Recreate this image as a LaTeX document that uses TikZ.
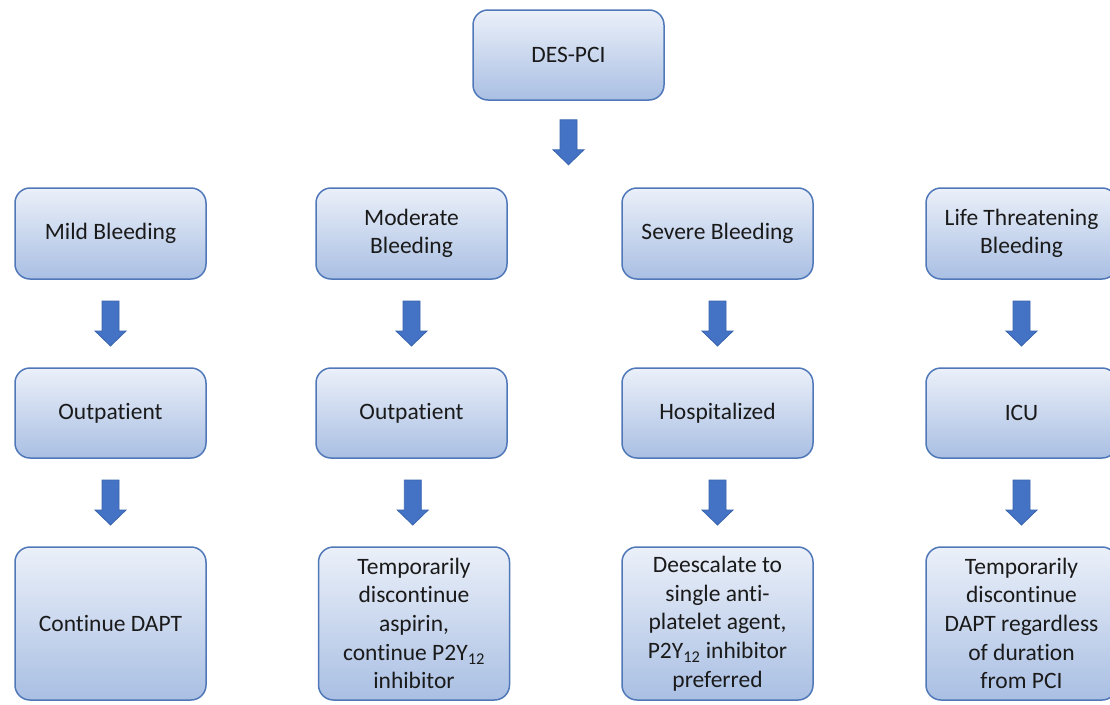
\documentclass[tikz,border=0pt]{standalone}
\usepackage{fontspec}
\setmainfont[Ligatures=NoCommon]{Carlito}
\usetikzlibrary{calc}
\definecolor{boxline}{HTML}{5078B8}
\definecolor{boxtop}{HTML}{EBF0F9}
\definecolor{boxbot}{HTML}{A9BFE3}
\definecolor{arrowfill}{HTML}{4472C4}
\definecolor{arrowline}{HTML}{3A64AE}
\definecolor{txt}{HTML}{1A1A1A}
\newcommand\blockarrowat[1]{%
  \draw[barrow] ($(#1)+(-8.5,22.5)$) -- ($(#1)+(8.5,22.5)$) -- ($(#1)+(8.5,-7.5)$) -- ($(#1)+(15.5,-7.5)$) -- ($(#1)+(0,-22.5)$) -- ($(#1)+(-15.5,-7.5)$) -- ($(#1)+(-8.5,-7.5)$) -- cycle;}
\newcommand\blockarrow[2]{%
  \path ($(#1.south)!0.5!(#2.north)$) coordinate (m);
  \blockarrowat{m}}
\begin{document}
\begin{tikzpicture}[x=1pt,y=1pt,
  box/.style={rectangle, rounded corners=15pt, draw=boxline, line width=1.5pt,
    top color=boxtop, bottom color=boxbot, minimum width=191pt, minimum height=91pt,
    align=center, text=txt, font=\fontsize{23.5}{28.7}\selectfont, inner sep=2pt},
  tall/.style={minimum height=153pt},
  barrow/.style={fill=arrowfill, draw=arrowline, line width=0.8pt, line join=miter}]
\useasboundingbox (0,0) rectangle (1110,-704);
% top
\node[box, minimum height=90pt] (des) at (568.5,-55) {DES-PCI};
% row 1
\node[box] (mild) at (110.5,-233.5) {Mild Bleeding};
\node[box] (mod)  at (411.5,-233.5) {Moderate\\Bleeding};
\node[box] (sev)  at (717.5,-233.5) {Severe Bleeding};
\node[box] (life) at (1021.5,-233.5) {Life Threatening\\Bleeding};
% row 2
\node[box, minimum height=90pt] (mild2) at (110.5,-413) {Outpatient};
\node[box, minimum height=90pt] (mod2)  at (411.5,-413) {Outpatient};
\node[box, minimum height=90pt] (sev2)  at (717.5,-413) {Hospitalized};
\node[box, minimum height=90pt] (life2) at (1021.5,-413) {ICU};
% row 3
\node[box, tall] (mild3) at (110.5,-623.5) {Continue DAPT};
\node[box, tall] (mod3)  at (414,-623.5) {Temporarily\\discontinue\\aspirin,\\continue P2Y\textsubscript{12}\\inhibitor};
\node[box, tall] (sev3)  at (717.5,-623.5) {Deescalate to\\single anti-\\platelet agent,\\P2Y\textsubscript{12} inhibitor\\preferred};
\node[box, tall] (life3) at (1021.5,-623.5) {Temporarily\\discontinue\\DAPT regardless\\of duration\\from PCI};
% arrows
\path (des.south) ++(0,-41.5) coordinate (m0);
\blockarrowat{m0}
\blockarrow{mild}{mild2}
\blockarrow{mod}{mod2}
\blockarrow{sev}{sev2}
\blockarrow{life}{life2}
\blockarrow{mild2}{mild3}
\blockarrow{mod2}{mod3}
\blockarrow{sev2}{sev3}
\blockarrow{life2}{life3}
\end{tikzpicture}
\end{document}
